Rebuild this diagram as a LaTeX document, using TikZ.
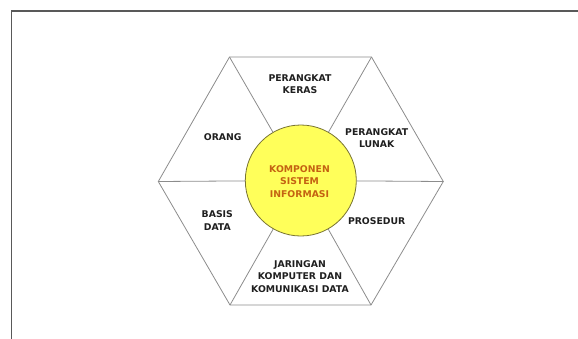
\documentclass[tikz,border=0pt]{standalone}
\usepackage{fontspec}
\setmainfont{DejaVu Sans}
\definecolor{centertext}{RGB}{196,98,18}
\definecolor{circfill}{RGB}{255,255,90}
\definecolor{circline}{RGB}{120,115,50}
\begin{document}
\begin{tikzpicture}[x=1pt,y=-1pt,
  hexline/.style={draw=black!45,line width=0.8pt},
  lbl/.style={align=center,font=\bfseries\fontsize{9.3}{12.3}\selectfont,text=black!88,inner sep=0pt},
  frameline/.style={draw=black!65,line width=1.4pt}]
\useasboundingbox (0,0) rectangle (578,338);
\coordinate (f1) at (11.5,340);
\coordinate (f2) at (11.5,10.8);
\coordinate (f3) at (580,10.8);
\draw[frameline] (f1) -- (f2) -- (f3);
% hexagon
\coordinate (h1) at (229.5,57);
\coordinate (h2) at (371.5,57);
\coordinate (h3) at (443.3,181.5);
\coordinate (h4) at (371,305);
\coordinate (h5) at (230,305);
\coordinate (h6) at (158.3,181.5);
\node[circle,draw=circline,line width=0.8pt,fill=circfill,minimum size=111pt,inner sep=0pt] (c) at (300.8,180.5) {};
\draw[hexline] (h1) -- (h2) -- (h3) -- (h4) -- (h5) -- (h6) -- cycle;
\foreach \v in {h1,h2,h3,h4,h5,h6} \draw[hexline] (\v) -- (c);
\node[lbl,text=centertext] (t0) at (299.5,181.5) {KOMPONEN\\SISTEM\\INFORMASI};
\node[lbl] (t1) at (300,84) {PERANGKAT\\KERAS};
\node[lbl] (t2) at (376.7,138) {PERANGKAT\\LUNAK};
\node[lbl] (t3) at (376.7,220.7) {PROSEDUR};
\node[lbl] (t4) at (300,276.5) {JARINGAN\\KOMPUTER DAN\\KOMUNIKASI DATA};
\node[lbl] (t5) at (217.3,220.5) {BASIS\\DATA};
\node[lbl] (t6) at (222.7,136.7) {ORANG};
\end{tikzpicture}
\end{document}
